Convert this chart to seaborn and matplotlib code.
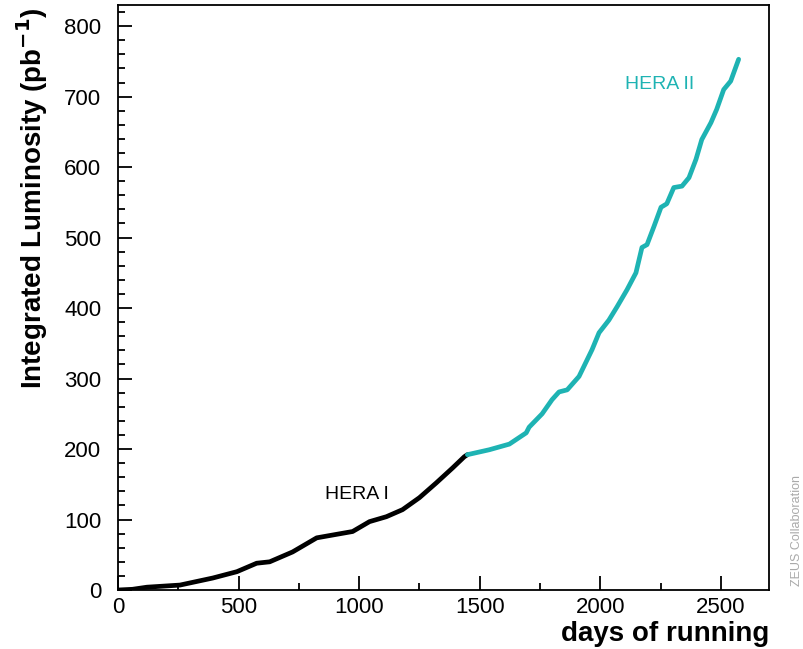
import matplotlib
matplotlib.use("Agg")
import matplotlib.pyplot as plt
import seaborn as sns
import pandas as pd
from matplotlib.ticker import MultipleLocator

# HERA I (black)
hera1_days = [0, 60, 120, 257, 393, 493, 575, 629, 724, 824, 890, 973, 1043, 1113,
              1180, 1250, 1320, 1387, 1436, 1449]
hera1_lumi = [0, 1, 4, 7, 17, 26, 38, 40, 54, 74, 78, 83, 97, 104,
              114, 131, 152, 173, 189, 192]

# HERA II (teal)
hera2_days = [1449, 1540, 1623, 1693, 1705, 1759, 1800, 1829, 1863, 1912, 1966, 1995,
              2036, 2070, 2111, 2148, 2173, 2194, 2223, 2252, 2276, 2305, 2339, 2368,
              2397, 2421, 2459, 2483, 2512, 2541, 2574]
hera2_lumi = [192, 199, 207, 223, 231, 250, 270, 281, 284, 303, 341, 365,
              383, 402, 426, 450, 486, 490, 516, 543, 548, 571, 573, 585,
              611, 639, 663, 682, 710, 722, 753]

x_ticks = [0, 500, 1000, 1500, 2000, 2500]
y_ticks = [0, 100, 200, 300, 400, 500, 600, 700, 800]

df = pd.concat([
    pd.DataFrame({"days": hera1_days, "lumi": hera1_lumi, "period": "HERA I"}),
    pd.DataFrame({"days": hera2_days, "lumi": hera2_lumi, "period": "HERA II"}),
])

sns.set_style("ticks")
plt.rcParams["font.family"] = ["Liberation Sans", "DejaVu Sans"]
plt.rcParams["text.color"] = "black"
plt.rcParams["xtick.color"] = "black"
plt.rcParams["ytick.color"] = "black"
plt.rcParams["axes.edgecolor"] = "black"

fig = plt.figure(figsize=(8.04, 6.49), dpi=100)
ax = fig.add_axes([0.1468, 0.0909, 0.8097, 0.9014])

teal = "#1eb3b3"
sns.lineplot(data=df, x="days", y="lumi", hue="period",
             palette={"HERA I": "black", "HERA II": teal},
             linewidth=3.4, legend=False, ax=ax, estimator=None, sort=False)

ax.set_xlim(0, 2700)
ax.set_ylim(0, 830)
ax.set_xticks(x_ticks)
ax.set_yticks(y_ticks)
ax.xaxis.set_minor_locator(MultipleLocator(250))
ax.yaxis.set_minor_locator(MultipleLocator(20))
ax.tick_params(which="major", direction="in", length=10, width=1.3,
               labelsize=16, top=False, right=False, colors="black")
ax.tick_params(axis="y", which="major", pad=12)
ax.tick_params(axis="x", which="major", pad=5)
ax.tick_params(which="minor", direction="in", length=5, width=1.3,
               top=False, right=False, colors="black")
for s in ax.spines.values():
    s.set_linewidth(1.3)
    s.set_visible(True)
    s.set_color("black")

ax.set_xlabel("")
ax.set_ylabel("")
fig.text(0.957, 0.003, "days of running", ha="right", va="bottom",
         fontsize=20, fontweight="bold")
fig.text(0.040, 0.695, r"Integrated Luminosity (pb$^{\mathbf{-1}}$)", rotation=90,
         ha="center", va="center", fontsize=20, fontweight="bold")

ax.text(990, 136, "HERA I", ha="center", va="center", fontsize=14, color="black")
ax.text(2247, 717, "HERA II", ha="center", va="center", fontsize=14, color=teal)

fig.text(0.991, 0.183, "ZEUS Collaboration", rotation=90, ha="center",
         va="center", fontsize=9, color="#aaaaaa")

fig.savefig("out.png", dpi=100)
